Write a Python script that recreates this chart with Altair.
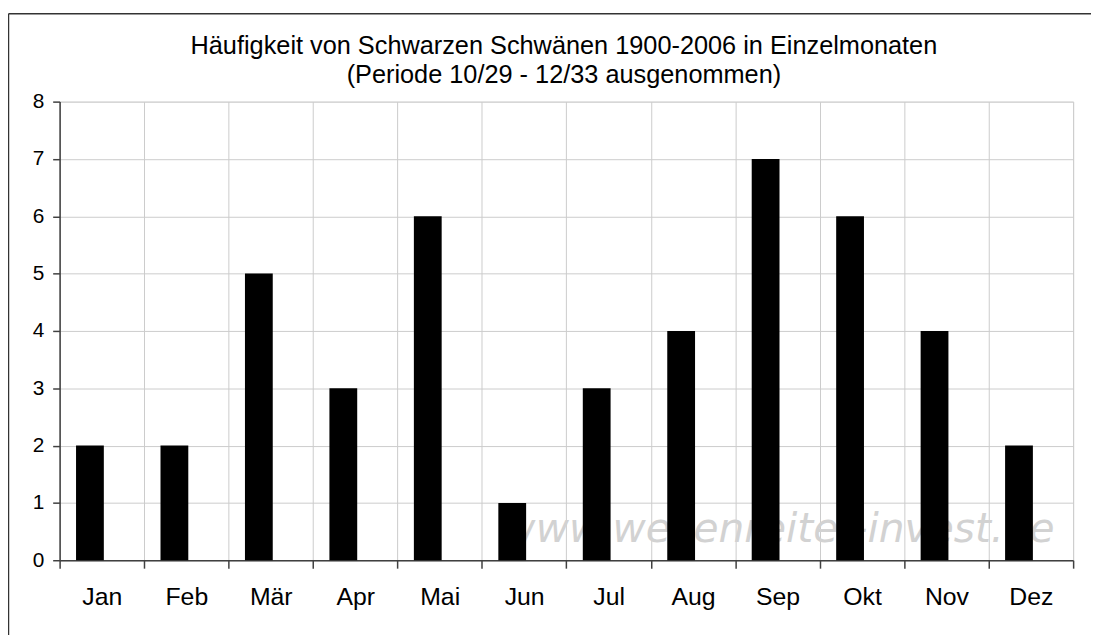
import altair as alt
import pandas as pd

months = ["Jan", "Feb", "Mär", "Apr", "Mai", "Jun", "Jul", "Aug", "Sep", "Okt", "Nov", "Dez"]
counts = [2, 2, 5, 3, 6, 1, 3, 4, 7, 6, 4, 2]
y_ticks = [0, 1, 2, 3, 4, 5, 6, 7, 8]
title_lines = ["Häufigkeit von Schwarzen Schwänen 1900-2006 in Einzelmonaten",
               "(Periode 10/29 - 12/33 ausgenommen)"]
watermark = "www.wellenreiter-invest.de"

df = pd.DataFrame({"Monat": months, "Anzahl": counts})

FONT = "Liberation Sans"
W, H = 1021, 462

x_enc = alt.X("Monat:N", sort=months,
              scale=alt.Scale(paddingInner=0, paddingOuter=0),
              axis=alt.Axis(title=None, tickBand="extent", labelAngle=0, grid=True,
                            labelFontSize=25, labelColor="#000000", labelFont=FONT,
                            labelPadding=17, tickSize=8, tickColor="#404040",
                            domainColor="#404040", domainWidth=1.5, tickWidth=1.5,
                            gridColor="#cccccc", gridWidth=1))
y_enc = alt.Y("Anzahl:Q", scale=alt.Scale(domain=[0, 8], nice=False),
              axis=alt.Axis(title=None, values=y_ticks, format="d",
                            labelFontSize=21, labelColor="#000000", labelFont=FONT,
                            labelPadding=9, tickSize=7, tickColor="#404040",
                            domainColor="#404040", domainWidth=1.5, tickWidth=1.5,
                            gridColor="#cccccc", gridWidth=1))

bars = alt.Chart(df).mark_bar(color="#000000", width=28, xOffset=-12).encode(
    x=x_enc, y=y_enc
)

wm = alt.Chart(pd.DataFrame({"t": [watermark]})).mark_text(
    font="DejaVu Sans", fontSize=41, fontStyle="italic", color="#d2d2d2",
    align="left", baseline="alphabetic"
).encode(x=alt.value(446), y=alt.value(H - 18), text="t:N")

title1 = alt.Chart(pd.DataFrame({"t": [title_lines[0]]})).mark_text(
    font=FONT, fontSize=25.5, color="#000000", align="center", baseline="alphabetic"
).encode(x=alt.value(508), y=alt.value(-47.5), text="t:N")
title2 = alt.Chart(pd.DataFrame({"t": [title_lines[1]]})).mark_text(
    font=FONT, fontSize=25.5, color="#000000", align="center", baseline="alphabetic"
).encode(x=alt.value(508), y=alt.value(-18.5), text="t:N")

frame_v = alt.Chart(pd.DataFrame({"a": [0]})).mark_rule(color="#333333", strokeWidth=1.5).encode(
    x=alt.value(-51.5), y=alt.value(-88.5), y2=alt.value(H + 100)
)
frame_h = alt.Chart(pd.DataFrame({"a": [0]})).mark_rule(color="#333333", strokeWidth=1.5).encode(
    x=alt.value(-51.5), x2=alt.value(W + 100), y=alt.value(-88.5)
)

chart = alt.layer(wm, bars, title1, title2, frame_v, frame_h).properties(
    width=W, height=H,
    autosize=alt.AutoSizeParams(type="none"),
    padding={"left": 52, "top": 92, "right": 18, "bottom": 73},
).configure_view(stroke=None).configure(background="#ffffff")

chart.save("out.html", embed_options={"renderer": "svg", "actions": False})
